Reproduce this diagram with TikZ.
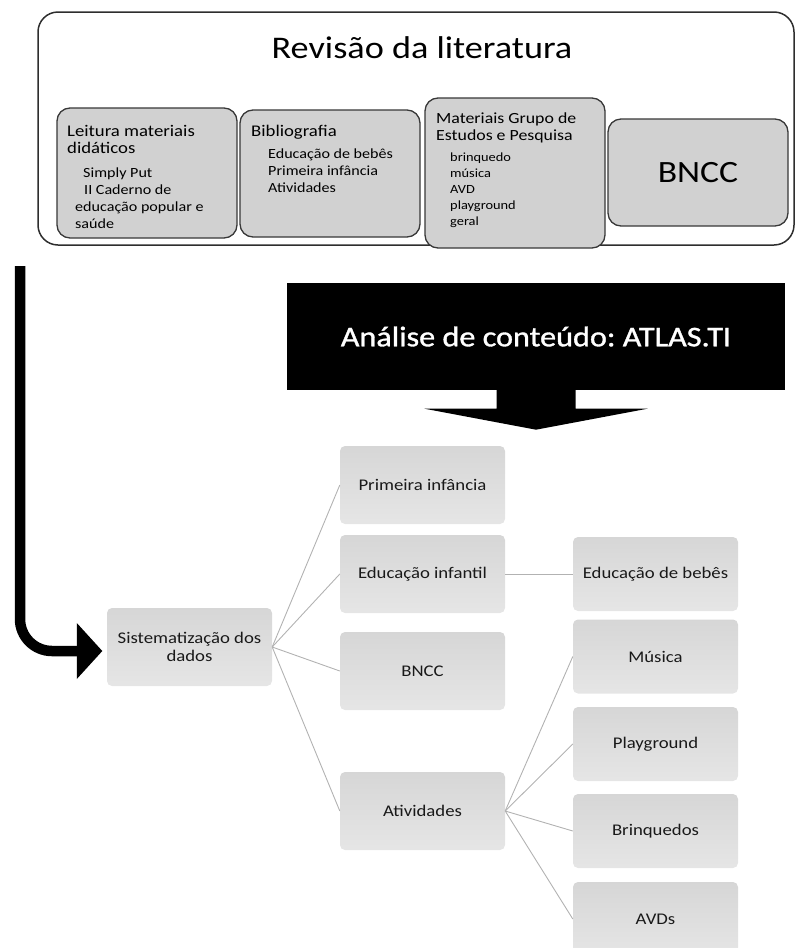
\documentclass[tikz,border=0pt]{standalone}
\usepackage{fontspec}
\setmainfont{Carlito}[FakeStretch=1.15]
\newfontfamily\anafont{Carlito}[FakeStretch=1.13, FakeBold=1.2]
\usetikzlibrary{calc}
\frenchspacing
\begin{document}
\begin{tikzpicture}[x=1pt,y=-1pt,
  topbox/.style={draw=black!78, line width=1.3pt, fill=black!18, rounded corners=13pt, inner sep=0pt},
  tbox/.style={rounded corners=5pt, top color=black!16, bottom color=black!10, draw=none, minimum width=165pt, align=center, font=\fontsize{16.3}{18.5}\selectfont, text=black!90, inner sep=0pt},
  lbox/.style={tbox, minimum height=78pt},
  rbox/.style={tbox, minimum height=74pt},
  link/.style={draw=black!30, line width=0.9pt},
  txt/.style={inner sep=0pt, anchor=base west, text=black},
  hd/.style={txt, font=\fontsize{16.3}{18}\selectfont},
  sub/.style={txt, font=\fontsize{14}{16}\selectfont},
  ssub/.style={txt, font=\fontsize{12.5}{15}\selectfont},
]
\useasboundingbox (0,0) rectangle (796,948);
\clip (0,0) rectangle (796,948);

% outer frame
\node[draw=black!82, line width=1.5pt, rounded corners=20pt, minimum width=756pt, minimum height=233pt, inner sep=0pt] (outer) at (416,128.5) {};
\node[anchor=base, inner sep=0pt, font=\fontsize{31.5}{36}\selectfont] (title) at (422,58) {Revisão da literatura};

% inner boxes
\node[topbox, minimum width=180pt, minimum height=130pt] (leit) at (147,173) {};
\node[topbox, minimum width=180pt, minimum height=127pt] (bib) at (330,173.5) {};
\node[topbox, minimum width=180pt, minimum height=150pt] (mat) at (515,173) {};
\node[topbox, minimum width=180pt, minimum height=107pt, font=\fontsize{31}{36}\selectfont] (bnccA) at (698,172.5) {BNCC};

% Leitura texts
\node[hd] (l1) at (67,136) {Leitura materiais};
\node[hd] (l2) at (67,153) {didáticos};
\node[sub] (l3) at (83,177) {Simply Put};
\node[sub] (l4) at (84,194) {II Caderno de};
\node[sub] (l5) at (75,211) {educação popular e};
\node[sub] (l6) at (75,228) {saúde};

% Bibliografia texts
\node[hd] (b1) at (251,136) {Bibliografia};
\node[sub] (b2) at (268,158) {Educação de bebês};
\node[sub] (b3) at (268,175) {Primeira infância};
\node[sub] (b4) at (268,192) {Atividades};

% Materiais texts
\node[txt, font=\fontsize{15.5}{17}\selectfont] (m1) at (436,123) {Materiais Grupo de};
\node[txt, font=\fontsize{15.5}{17}\selectfont] (m2) at (436,140) {Estudos e Pesquisa};
\node[ssub] (m3) at (450,161) {brinquedo};
\node[ssub] (m4) at (450,177) {música};
\node[ssub] (m5) at (450,193) {AVD};
\node[ssub] (m6) at (450,209) {playground};
\node[ssub] (m7) at (450,225) {geral};

% black block arrow
\node[fill=black, minimum width=498pt, minimum height=107pt, inner sep=0pt, text=white, font=\anafont\fontsize{28.5}{32}\selectfont] (ana) at (536,336.5) {Análise de conteúdo: ATLAS.TI};
\fill[black] ($(ana.south)+(-39.5,-0.5)$) -- ++(0,19) -- ++(-72,0) -- ++(111.5,21) -- ++(111.5,-21) -- ++(-72,0) -- ++(0,-19) -- cycle;

% tree
\node[lbox] (sist) at (189.5,647) {Sistematização dos\\dados};
\node[lbox] (prim) at (422.5,485) {Primeira infância};
\node[lbox] (edinf) at (422.5,574) {Educação infantil};
\node[lbox] (bnccB) at (422.5,671) {BNCC};
\node[lbox] (ativ) at (422.5,811) {Atividades};
\node[rbox] (bebes) at (655.5,574) {Educação de bebês};
\node[rbox] (mus) at (655.5,656.5) {Música};
\node[rbox] (play) at (655.5,744) {Playground};
\node[rbox] (brinq) at (655.5,831) {Brinquedos};
\node[rbox] (avds) at (655.5,919) {AVDs};

\draw[link] (sist.east) -- (prim.west);
\draw[link] (sist.east) -- (edinf.west);
\draw[link] (sist.east) -- (bnccB.west);
\draw[link] (sist.east) -- (ativ.west);
\draw[link] (edinf.east) -- (bebes.west);
\draw[link] (ativ.east) -- (mus.west);
\draw[link] (ativ.east) -- (play.west);
\draw[link] (ativ.east) -- (brinq.west);
\draw[link] (ativ.east) -- (avds.west);

% left bent arrow
\coordinate (atop) at (20,266);
\draw[line width=10.5pt, rounded corners=32pt] (atop) |- ($(sist.west)+(-29,4)$);
\fill[black] ($(sist.west)+(-30,-24)$) -- ($(sist.west)+(-4.5,4)$) -- ($(sist.west)+(-30,32)$) -- cycle;
\end{tikzpicture}
\end{document}
